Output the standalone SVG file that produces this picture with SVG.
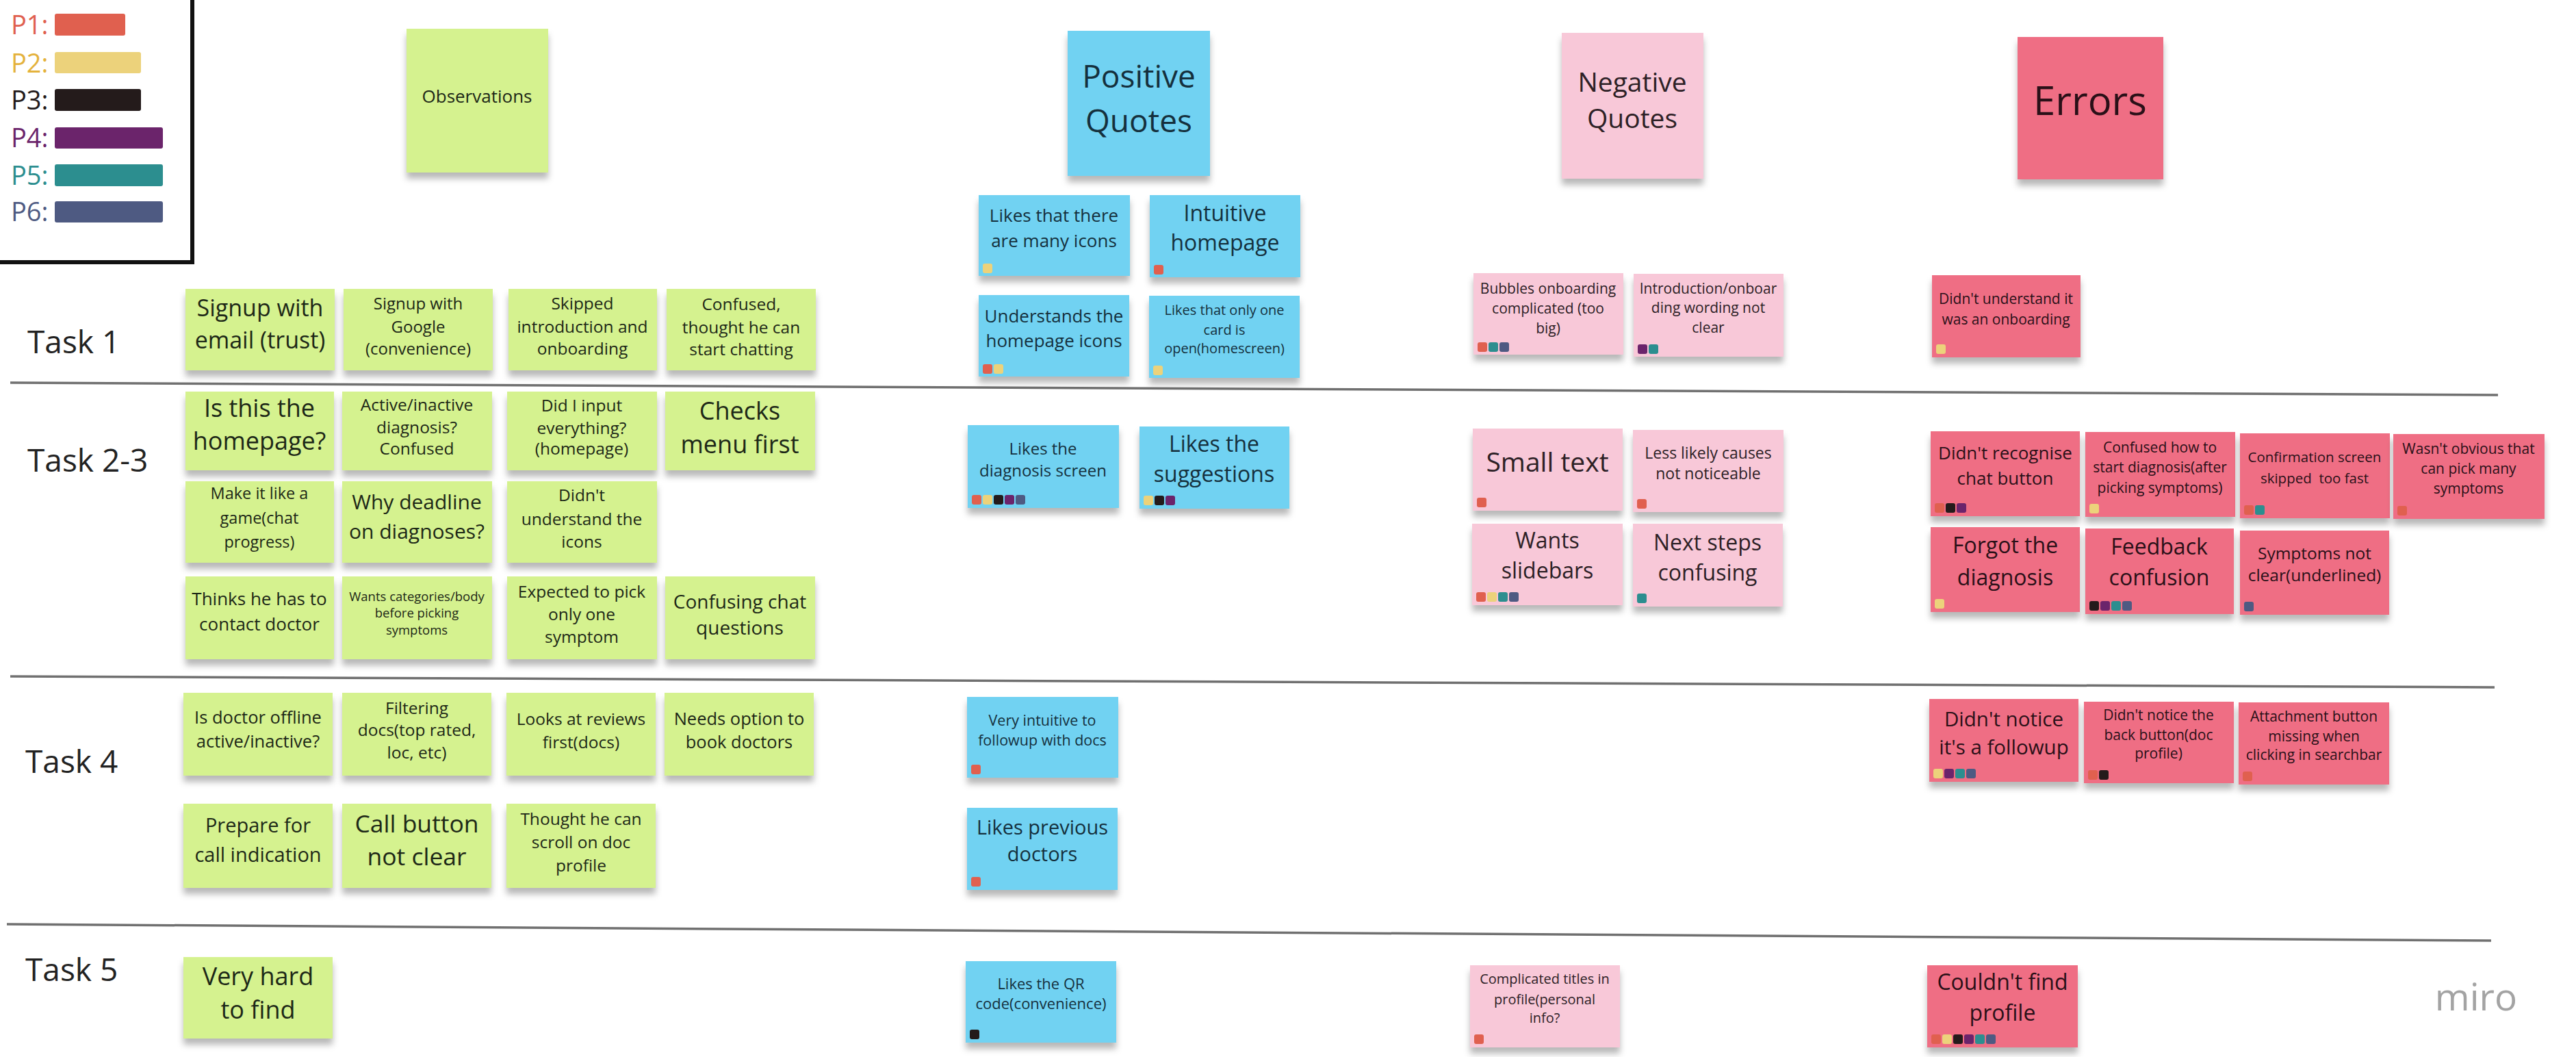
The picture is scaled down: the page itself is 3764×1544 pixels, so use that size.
<svg xmlns="http://www.w3.org/2000/svg" width="3764" height="1544" viewBox="0 0 3764 1544">
<defs>
<filter id="sh" x="-10%" y="-10%" width="120%" height="140%">
<feDropShadow dx="0" dy="9" stdDeviation="5" flood-color="#000" flood-opacity="0.28"/>
</filter>
<style>
text{font-family:"Open Sans","Noto Sans","Liberation Sans",sans-serif;text-anchor:middle}
.n{filter:url(#sh)}
.g{fill:#d5f28f}.b{fill:#71d2f2}.p{fill:#f8c8d8}.r{fill:#ef6e84}
.tg{fill:#1d2817}.tb{fill:#15303d}.tp{fill:#2d2126}.tr{fill:#2a1018}
.c1{fill:#e0604f}.c2{fill:#ecd27b}.c3{fill:#241b1b}.c4{fill:#6b246b}.c5{fill:#2c8e8f}.c6{fill:#4e5a82}
.lg{font-size:38px;text-anchor:start}
.lg2{fill:#e4b23c}
.div{stroke:#707070;stroke-width:3.5;fill:none}
</style>
</defs>
<rect width="3764" height="1544" fill="#ffffff"/>

<g id="legend">
<rect x="-10" y="-10" width="291" height="393" fill="#ffffff" stroke="#111" stroke-width="6"/>
<text class="lg c1" x="16" y="50">P1:</text><rect class="c1" x="80" y="20" width="103" height="32" rx="3"/>
<text class="lg lg2" x="16" y="106">P2:</text><rect class="c2" x="80" y="76" width="126" height="31" rx="3"/>
<text class="lg c3" x="16" y="160">P3:</text><rect class="c3" x="80" y="130" width="126" height="32" rx="3"/>
<text class="lg c4" x="16" y="215">P4:</text><rect class="c4" x="80" y="186" width="158" height="31" rx="3"/>
<text class="lg c5" x="16" y="270">P5:</text><rect class="c5" x="80" y="240" width="158" height="32" rx="3"/>
<text class="lg c6" x="16" y="323">P6:</text><rect class="c6" x="80" y="294" width="158" height="31" rx="3"/>
</g>

<g id="dividers">
<line class="div" x1="15" y1="559" x2="3650" y2="577"/>
<line class="div" x1="15" y1="988" x2="3645" y2="1004"/>
<line class="div" x1="10" y1="1350" x2="3640" y2="1374"/>
</g>

<g id="task-labels" style="font-size:46px;fill:#222">
<text x="40" y="516" style="text-anchor:start">Task 1</text>
<text x="40" y="689" style="text-anchor:start">Task 2-3</text>
<text x="37" y="1129" style="text-anchor:start">Task 4</text>
<text x="37" y="1433" style="text-anchor:start">Task 5</text>
</g>

<!-- headers -->
<g id="hdr-observations"><rect class="n g" x="594" y="42" width="207" height="210"/><text class="tg" style="font-size:26px"><tspan x="697" y="150">Observations</tspan></text></g>
<g id="hdr-positive"><rect class="n b" x="1560" y="45" width="208" height="212"/><text class="tb" style="font-size:46px"><tspan x="1664" y="128">Positive</tspan><tspan x="1664" y="193">Quotes</tspan></text></g>
<g id="hdr-negative"><rect class="n p" x="2282" y="48" width="207" height="213"/><text class="tp" style="font-size:39px"><tspan x="2385" y="134">Negative</tspan><tspan x="2385" y="187">Quotes</tspan></text></g>
<g id="hdr-errors"><rect class="n r" x="2948" y="54" width="213" height="208"/><text class="tr" style="font-size:58px"><tspan x="3054" y="168">Errors</tspan></text></g>

<!-- observations -->
<g id="obs-1"><rect class="n g" x="271" y="422" width="218" height="119"/><text class="tg" style="font-size:34px"><tspan x="380" y="462">Signup with</tspan><tspan x="380" y="509">email (trust)</tspan></text></g>
<g id="obs-2"><rect class="n g" x="502" y="422" width="218" height="119"/><text class="tg" style="font-size:24px"><tspan x="611" y="452">Signup with</tspan><tspan x="611" y="486">Google</tspan><tspan x="611" y="518">(convenience)</tspan></text></g>
<g id="obs-3"><rect class="n g" x="743" y="422" width="217" height="119"/><text class="tg" style="font-size:24.5px"><tspan x="851" y="452">Skipped</tspan><tspan x="851" y="486">introduction and</tspan><tspan x="851" y="518">onboarding</tspan></text></g>
<g id="obs-4"><rect class="n g" x="974" y="422" width="218" height="119"/><text class="tg" style="font-size:24.5px"><tspan x="1083" y="453">Confused,</tspan><tspan x="1083" y="487">thought he can</tspan><tspan x="1083" y="519">start chatting</tspan></text></g>

<g id="obs-5"><rect class="n g" x="271" y="572" width="217" height="115"/><text class="tg" style="font-size:36px"><tspan x="379" y="609">Is this the</tspan><tspan x="379" y="657">homepage?</tspan></text></g>
<g id="obs-6"><rect class="n g" x="500" y="572" width="219" height="115"/><text class="tg" style="font-size:24.5px"><tspan x="609" y="600">Active/inactive</tspan><tspan x="609" y="633">diagnosis?</tspan><tspan x="609" y="664">Confused</tspan></text></g>
<g id="obs-7"><rect class="n g" x="741" y="572" width="219" height="115"/><text class="tg" style="font-size:24.5px"><tspan x="850" y="601">Did I input</tspan><tspan x="850" y="634">everything?</tspan><tspan x="850" y="664">(homepage)</tspan></text></g>
<g id="obs-8"><rect class="n g" x="972" y="572" width="219" height="115"/><text class="tg" style="font-size:36px"><tspan x="1081" y="613">Checks</tspan><tspan x="1081" y="662">menu first</tspan></text></g>

<g id="obs-9"><rect class="n g" x="271" y="703" width="217" height="119"/><text class="tg" style="font-size:23.5px"><tspan x="379" y="729">Make it like a</tspan><tspan x="379" y="765">game(chat</tspan><tspan x="379" y="800">progress)</tspan></text></g>
<g id="obs-10"><rect class="n g" x="500" y="703" width="219" height="119"/><text class="tg" style="font-size:30px"><tspan x="609" y="744">Why deadline</tspan><tspan x="609" y="787">on diagnoses?</tspan></text></g>
<g id="obs-11"><rect class="n g" x="741" y="703" width="219" height="119"/><text class="tg" style="font-size:24.5px"><tspan x="850" y="732">Didn't</tspan><tspan x="850" y="767">understand the</tspan><tspan x="850" y="800">icons</tspan></text></g>

<g id="obs-12"><rect class="n g" x="271" y="842" width="217" height="121"/><text class="tg" style="font-size:26px"><tspan x="379" y="884">Thinks he has to</tspan><tspan x="379" y="921">contact doctor</tspan></text></g>
<g id="obs-13"><rect class="n g" x="500" y="842" width="219" height="121"/><text class="tg" style="font-size:18.5px"><tspan x="609" y="878">Wants categories/body</tspan><tspan x="609" y="902">before picking</tspan><tspan x="609" y="927">symptoms</tspan></text></g>
<g id="obs-14"><rect class="n g" x="741" y="842" width="219" height="121"/><text class="tg" style="font-size:24.5px"><tspan x="850" y="873">Expected to pick</tspan><tspan x="850" y="906">only one</tspan><tspan x="850" y="939">symptom</tspan></text></g>
<g id="obs-15"><rect class="n g" x="972" y="842" width="219" height="121"/><text class="tg" style="font-size:28px"><tspan x="1081" y="889">Confusing chat</tspan><tspan x="1081" y="927">questions</tspan></text></g>

<g id="obs-16"><rect class="n g" x="268" y="1012" width="218" height="121"/><text class="tg" style="font-size:25.5px"><tspan x="377" y="1057">Is doctor offline</tspan><tspan x="377" y="1092">active/inactive?</tspan></text></g>
<g id="obs-17"><rect class="n g" x="500" y="1012" width="218" height="121"/><text class="tg" style="font-size:24.5px"><tspan x="609" y="1043">Filtering</tspan><tspan x="609" y="1075">docs(top rated,</tspan><tspan x="609" y="1108">loc, etc)</tspan></text></g>
<g id="obs-18"><rect class="n g" x="740" y="1012" width="218" height="121"/><text class="tg" style="font-size:24.5px"><tspan x="849" y="1059">Looks at reviews</tspan><tspan x="849" y="1093">first(docs)</tspan></text></g>
<g id="obs-19"><rect class="n g" x="971" y="1012" width="218" height="121"/><text class="tg" style="font-size:25.5px"><tspan x="1080" y="1059">Needs option to</tspan><tspan x="1080" y="1093">book doctors</tspan></text></g>

<g id="obs-20"><rect class="n g" x="268" y="1174" width="218" height="123"/><text class="tg" style="font-size:29px"><tspan x="377" y="1216">Prepare for</tspan><tspan x="377" y="1259">call indication</tspan></text></g>
<g id="obs-21"><rect class="n g" x="500" y="1174" width="218" height="123"/><text class="tg" style="font-size:35.5px"><tspan x="609" y="1216">Call button</tspan><tspan x="609" y="1264">not clear</tspan></text></g>
<g id="obs-22"><rect class="n g" x="740" y="1174" width="218" height="123"/><text class="tg" style="font-size:24.5px"><tspan x="849" y="1205">Thought he can</tspan><tspan x="849" y="1239">scroll on doc</tspan><tspan x="849" y="1273">profile</tspan></text></g>

<g id="obs-23"><rect class="n g" x="268" y="1398" width="218" height="119"/><text class="tg" style="font-size:36px"><tspan x="377" y="1439">Very hard</tspan><tspan x="377" y="1488">to find</tspan></text></g>

<!-- positive quotes -->
<g id="pos-1"><rect class="n b" x="1430" y="285" width="221" height="118"/><text class="tb" style="font-size:26px"><tspan x="1540" y="324">Likes that there</tspan><tspan x="1540" y="361">are many icons</tspan></text><rect class="c2" x="1436" y="385" width="14" height="14" rx="3"/></g>
<g id="pos-2"><rect class="n b" x="1680" y="285" width="220" height="120"/><text class="tb" style="font-size:32px"><tspan x="1790" y="323">Intuitive</tspan><tspan x="1790" y="366">homepage</tspan></text><rect class="c1" x="1686" y="387" width="14" height="14" rx="3"/></g>
<g id="pos-3"><rect class="n b" x="1430" y="431" width="220" height="119"/><text class="tb" style="font-size:26px"><tspan x="1540" y="471">Understands the</tspan><tspan x="1540" y="507">homepage icons</tspan></text><rect class="c1" x="1436" y="532" width="14" height="14" rx="3"/><rect class="c2" x="1452" y="532" width="14" height="14" rx="3"/></g>
<g id="pos-4"><rect class="n b" x="1679" y="432" width="220" height="120"/><text class="tb" style="font-size:20px"><tspan x="1789" y="460">Likes that only one</tspan><tspan x="1789" y="489">card is</tspan><tspan x="1789" y="516">open(homescreen)</tspan></text><rect class="c2" x="1685" y="534" width="14" height="14" rx="3"/></g>

<g id="pos-5"><rect class="n b" x="1414" y="621" width="221" height="121"/><text class="tb" style="font-size:24px"><tspan x="1524" y="664">Likes the</tspan><tspan x="1524" y="696">diagnosis screen</tspan></text><rect class="c1" x="1420" y="723" width="14" height="14" rx="3"/><rect class="c2" x="1436" y="723" width="14" height="14" rx="3"/><rect class="c3" x="1452" y="723" width="14" height="14" rx="3"/><rect class="c4" x="1468" y="723" width="14" height="14" rx="3"/><rect class="c6" x="1484" y="723" width="14" height="14" rx="3"/></g>
<g id="pos-6"><rect class="n b" x="1665" y="623" width="219" height="120"/><text class="tb" style="font-size:32px"><tspan x="1774" y="660">Likes the</tspan><tspan x="1774" y="704">suggestions</tspan></text><rect class="c2" x="1671" y="724" width="14" height="14" rx="3"/><rect class="c3" x="1687" y="724" width="14" height="14" rx="3"/><rect class="c4" x="1703" y="724" width="14" height="14" rx="3"/></g>

<g id="pos-7"><rect class="n b" x="1413" y="1018" width="221" height="118"/><text class="tb" style="font-size:21.5px"><tspan x="1523" y="1060">Very intuitive to</tspan><tspan x="1523" y="1089">followup with docs</tspan></text><rect class="c1" x="1419" y="1117" width="14" height="14" rx="3"/></g>
<g id="pos-8"><rect class="n b" x="1413" y="1180" width="220" height="120"/><text class="tb" style="font-size:29px"><tspan x="1523" y="1219">Likes previous</tspan><tspan x="1523" y="1258">doctors</tspan></text><rect class="c1" x="1419" y="1281" width="14" height="14" rx="3"/></g>

<g id="pos-9"><rect class="n b" x="1411" y="1404" width="220" height="119"/><text class="tb" style="font-size:22px"><tspan x="1521" y="1445">Likes the QR</tspan><tspan x="1521" y="1474">code(convenience)</tspan></text><rect class="c3" x="1417" y="1504" width="14" height="14" rx="3"/></g>

<!-- negative quotes -->
<g id="neg-1"><rect class="n p" x="2153" y="399" width="219" height="119"/><text class="tp" style="font-size:21px"><tspan x="2262" y="429">Bubbles onboarding</tspan><tspan x="2262" y="458">complicated (too</tspan><tspan x="2262" y="487">big)</tspan></text><rect class="c1" x="2159" y="500" width="14" height="14" rx="3"/><rect class="c5" x="2175" y="500" width="14" height="14" rx="3"/><rect class="c6" x="2191" y="500" width="14" height="14" rx="3"/></g>
<g id="neg-2"><rect class="n p" x="2387" y="400" width="219" height="121"/><text class="tp" style="font-size:21px"><tspan x="2496" y="429">Introduction/onboar</tspan><tspan x="2496" y="457">ding wording not</tspan><tspan x="2496" y="486">clear</tspan></text><rect class="c4" x="2393" y="503" width="14" height="14" rx="3"/><rect class="c5" x="2409" y="503" width="14" height="14" rx="3"/></g>

<g id="neg-3"><rect class="n p" x="2152" y="626" width="219" height="120"/><text class="tp" style="font-size:39px"><tspan x="2261" y="689">Small text</tspan></text><rect class="c1" x="2158" y="727" width="14" height="14" rx="3"/></g>
<g id="neg-4"><rect class="n p" x="2386" y="628" width="220" height="120"/><text class="tp" style="font-size:23px"><tspan x="2496" y="670">Less likely causes</tspan><tspan x="2496" y="700">not noticeable</tspan></text><rect class="c1" x="2392" y="729" width="14" height="14" rx="3"/></g>
<g id="neg-5"><rect class="n p" x="2151" y="765" width="220" height="119"/><text class="tp" style="font-size:32px"><tspan x="2261" y="801">Wants</tspan><tspan x="2261" y="845">slidebars</tspan></text><rect class="c1" x="2157" y="865" width="14" height="14" rx="3"/><rect class="c2" x="2173" y="865" width="14" height="14" rx="3"/><rect class="c5" x="2189" y="865" width="14" height="14" rx="3"/><rect class="c6" x="2205" y="865" width="14" height="14" rx="3"/></g>
<g id="neg-6"><rect class="n p" x="2386" y="765" width="219" height="121"/><text class="tp" style="font-size:32px"><tspan x="2495" y="804">Next steps</tspan><tspan x="2495" y="848">confusing</tspan></text><rect class="c5" x="2392" y="867" width="14" height="14" rx="3"/></g>

<g id="neg-7"><rect class="n p" x="2148" y="1410" width="219" height="120"/><text class="tp" style="font-size:20px"><tspan x="2257" y="1437">Complicated titles in</tspan><tspan x="2257" y="1467">profile(personal</tspan><tspan x="2257" y="1494">info?</tspan></text><rect class="c1" x="2154" y="1511" width="14" height="14" rx="3"/></g>

<!-- errors -->
<g id="err-1"><rect class="n r" x="2823" y="402" width="217" height="120"/><text class="tr" style="font-size:21px"><tspan x="2931" y="444">Didn't understand it</tspan><tspan x="2931" y="474">was an onboarding</tspan></text><rect class="c2" x="2829" y="503" width="14" height="14" rx="3"/></g>

<g id="err-2"><rect class="n r" x="2821" y="630" width="218" height="124"/><text class="tr" style="font-size:26px"><tspan x="2930" y="671">Didn't recognise</tspan><tspan x="2930" y="708">chat button</tspan></text><rect class="c1" x="2827" y="735" width="14" height="14" rx="3"/><rect class="c3" x="2843" y="735" width="14" height="14" rx="3"/><rect class="c4" x="2859" y="735" width="14" height="14" rx="3"/></g>
<g id="err-3"><rect class="n r" x="3047" y="631" width="219" height="124"/><text class="tr" style="font-size:21px"><tspan x="3156" y="661">Confused how to</tspan><tspan x="3156" y="690">start diagnosis(after</tspan><tspan x="3156" y="720">picking symptoms)</tspan></text><rect class="c2" x="3053" y="736" width="14" height="14" rx="3"/></g>
<g id="err-4"><rect class="n r" x="3273" y="633" width="219" height="124"/><text class="tr" style="font-size:20.5px" xml:space="preserve"><tspan x="3382" y="675">Confirmation screen</tspan><tspan x="3382" y="706">skipped  too fast</tspan></text><rect class="c1" x="3279" y="738" width="14" height="14" rx="3"/><rect class="c5" x="3295" y="738" width="14" height="14" rx="3"/></g>
<g id="err-5"><rect class="n r" x="3497" y="634" width="221" height="124"/><text class="tr" style="font-size:21px"><tspan x="3607" y="663">Wasn't obvious that</tspan><tspan x="3607" y="692">can pick many</tspan><tspan x="3607" y="721">symptoms</tspan></text><rect class="c1" x="3503" y="739" width="14" height="14" rx="3"/></g>

<g id="err-6"><rect class="n r" x="2821" y="770" width="218" height="124"/><text class="tr" style="font-size:32px"><tspan x="2930" y="808">Forgot the</tspan><tspan x="2930" y="855">diagnosis</tspan></text><rect class="c2" x="2827" y="875" width="14" height="14" rx="3"/></g>
<g id="err-7"><rect class="n r" x="3047" y="772" width="217" height="125"/><text class="tr" style="font-size:32px"><tspan x="3155" y="810">Feedback</tspan><tspan x="3155" y="855">confusion</tspan></text><rect class="c3" x="3053" y="878" width="14" height="14" rx="3"/><rect class="c4" x="3069" y="878" width="14" height="14" rx="3"/><rect class="c5" x="3085" y="878" width="14" height="14" rx="3"/><rect class="c6" x="3101" y="878" width="14" height="14" rx="3"/></g>
<g id="err-8"><rect class="n r" x="3273" y="775" width="218" height="123"/><text class="tr" style="font-size:24.5px"><tspan x="3382" y="817">Symptoms not</tspan><tspan x="3382" y="849">clear(underlined)</tspan></text><rect class="c6" x="3279" y="879" width="14" height="14" rx="3"/></g>

<g id="err-9"><rect class="n r" x="2819" y="1021" width="218" height="121"/><text class="tr" style="font-size:29.5px"><tspan x="2928" y="1061">Didn't notice</tspan><tspan x="2928" y="1102">it's a followup</tspan></text><rect class="c2" x="2825" y="1123" width="14" height="14" rx="3"/><rect class="c4" x="2841" y="1123" width="14" height="14" rx="3"/><rect class="c5" x="2857" y="1123" width="14" height="14" rx="3"/><rect class="c6" x="2873" y="1123" width="14" height="14" rx="3"/></g>
<g id="err-10"><rect class="n r" x="3045" y="1025" width="219" height="119"/><text class="tr" style="font-size:21px"><tspan x="3154" y="1052">Didn't notice the</tspan><tspan x="3154" y="1081">back button(doc</tspan><tspan x="3154" y="1108">profile)</tspan></text><rect class="c1" x="3051" y="1125" width="14" height="14" rx="3"/><rect class="c3" x="3067" y="1125" width="14" height="14" rx="3"/></g>
<g id="err-11"><rect class="n r" x="3271" y="1026" width="220" height="120"/><text class="tr" style="font-size:21px"><tspan x="3381" y="1054">Attachment button</tspan><tspan x="3381" y="1083">missing when</tspan><tspan x="3381" y="1110">clicking in searchbar</tspan></text><rect class="c1" x="3277" y="1127" width="14" height="14" rx="3"/></g>

<g id="err-12"><rect class="n r" x="2816" y="1410" width="220" height="120"/><text class="tr" style="font-size:32px"><tspan x="2926" y="1446">Couldn't find</tspan><tspan x="2926" y="1491">profile</tspan></text><rect class="c1" x="2822" y="1511" width="14" height="14" rx="3"/><rect class="c2" x="2838" y="1511" width="14" height="14" rx="3"/><rect class="c3" x="2854" y="1511" width="14" height="14" rx="3"/><rect class="c4" x="2870" y="1511" width="14" height="14" rx="3"/><rect class="c5" x="2886" y="1511" width="14" height="14" rx="3"/><rect class="c6" x="2902" y="1511" width="14" height="14" rx="3"/></g>

<g id="miro-logo"><text x="3618" y="1476" style="font-size:55px;fill:#a3a3a3">miro</text></g>
</svg>
